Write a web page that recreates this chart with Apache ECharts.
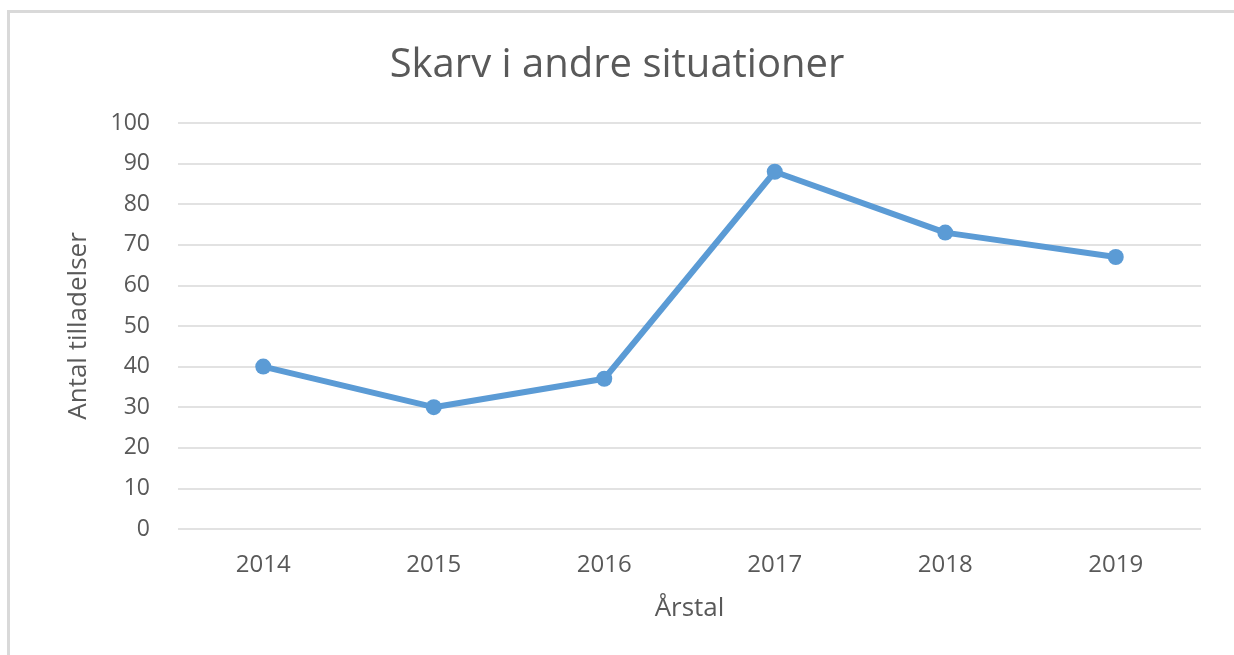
<!DOCTYPE html>
<html>
<head>
<meta charset="utf-8">
<script src="https://cdn.jsdelivr.net/npm/echarts@6/dist/echarts.min.js"></script>
<style>
  html, body { margin: 0; padding: 0; background: #fff; }
  #chart { width: 1234px; height: 655px; }
</style>
</head>
<body>
<div id="chart"></div>
<script>
// Permits issued per year
const years = ['2014', '2015', '2016', '2017', '2018', '2019'];
const permits = [40, 30, 37, 88, 73, 67];

const titleText = 'Skarv i andre situationer';
const yAxisTitle = 'Antal tilladelser';
const xAxisTitle = 'Årstal';

const textColor = '#595959';
const fontFamily = '"Open Sans", "Noto Sans", sans-serif';

const chart = echarts.init(document.getElementById('chart'), null, { renderer: 'canvas' });

chart.setOption({
  animation: false,
  backgroundColor: '#ffffff',
  graphic: [{
    type: 'rect',
    shape: { x: 8.5, y: 11.5, width: 1240, height: 700 },
    style: { fill: 'none', stroke: '#d9d9d9', lineWidth: 3 },
    silent: true,
    z: -1
  }],
  title: {
    text: titleText,
    left: 'center',
    top: 41,
    textStyle: { color: textColor, fontSize: 40, fontWeight: 'normal', fontFamily: fontFamily }
  },
  grid: { left: 178, right: 33, top: 123, bottom: 126 },
  xAxis: {
    type: 'category',
    data: years,
    boundaryGap: true,
    axisLine: { show: false },
    axisTick: { show: false },
    axisLabel: { color: textColor, fontSize: 24, margin: 24, fontFamily: fontFamily },
    name: xAxisTitle,
    nameLocation: 'middle',
    nameGap: 67,
    nameTextStyle: { color: textColor, fontSize: 26, fontFamily: fontFamily }
  },
  yAxis: {
    type: 'value',
    min: 0,
    max: 100,
    interval: 10,
    axisLine: { show: false },
    axisTick: { show: false },
    axisLabel: { color: textColor, fontSize: 23, margin: 28, fontFamily: fontFamily },
    splitLine: { lineStyle: { color: '#d9d9d9', width: 1.5 } },
    name: yAxisTitle,
    nameLocation: 'middle',
    nameRotate: 90,
    nameGap: 86,
    nameTextStyle: { color: textColor, fontSize: 26, fontFamily: fontFamily }
  },
  series: [{
    type: 'line',
    data: permits,
    symbol: 'circle',
    symbolSize: 16,
    lineStyle: { color: '#5b9bd5', width: 6 },
    itemStyle: { color: '#5b9bd5' }
  }]
});
</script>
</body>
</html>
